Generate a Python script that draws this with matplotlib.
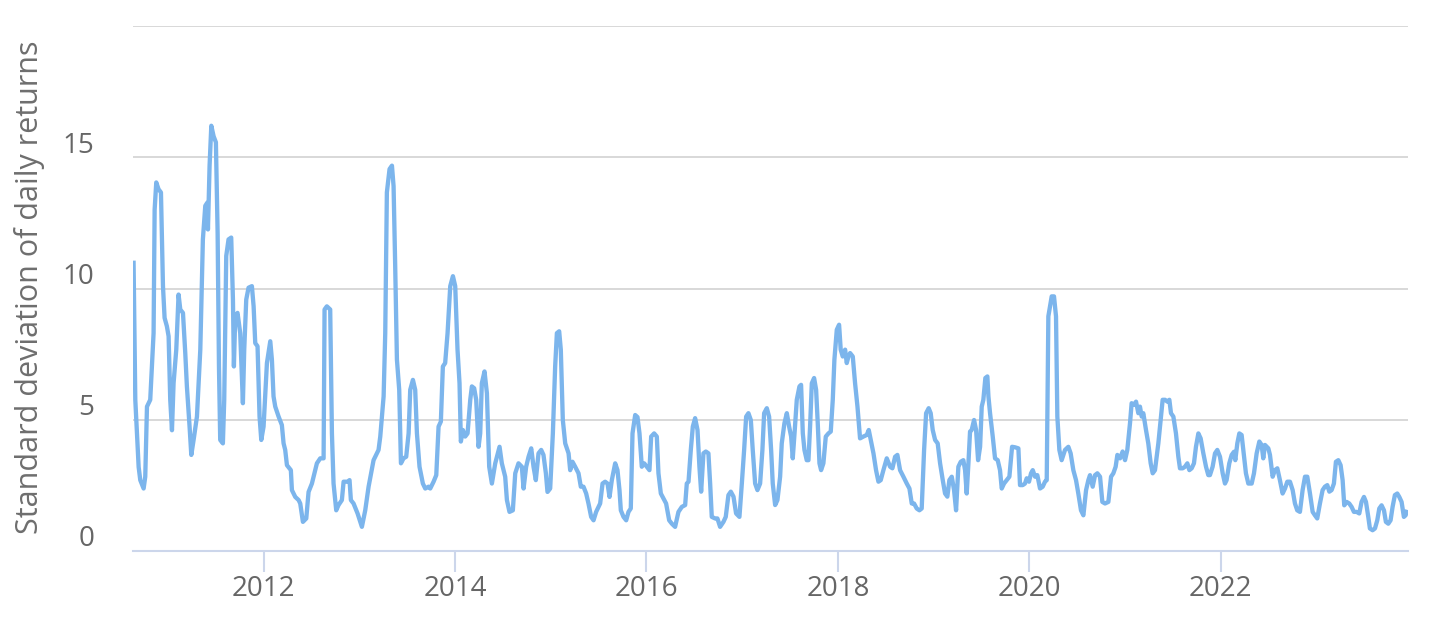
import numpy as np
import matplotlib
matplotlib.use('Agg')
import matplotlib.pyplot as plt
from matplotlib.transforms import ScaledTranslation

# decimal year of each point
years = [
    2010.642, 2010.660, 2010.695, 2010.712, 2010.747, 2010.764, 2010.782, 2010.816, 2010.851, 2010.862,
    2010.879, 2010.903, 2010.928, 2010.949, 2010.966, 2010.990, 2011.008, 2011.025, 2011.043, 2011.060,
    2011.088, 2011.112, 2011.130, 2011.158, 2011.182, 2011.199, 2011.227, 2011.245, 2011.269, 2011.304,
    2011.339, 2011.366, 2011.391, 2011.412, 2011.419, 2011.436, 2011.454, 2011.478, 2011.502, 2011.520,
    2011.534, 2011.547, 2011.575, 2011.589, 2011.610, 2011.634, 2011.662, 2011.680, 2011.690, 2011.704,
    2011.728, 2011.756, 2011.784, 2011.798, 2011.819, 2011.843, 2011.878, 2011.896, 2011.913, 2011.937,
    2011.958, 2011.976, 2012.000, 2012.035, 2012.070, 2012.087, 2012.104, 2012.122, 2012.157, 2012.191,
    2012.209, 2012.226, 2012.244, 2012.285, 2012.296, 2012.331, 2012.366, 2012.383, 2012.411, 2012.446,
    2012.470, 2012.505, 2012.557, 2012.592, 2012.627, 2012.637, 2012.661, 2012.696, 2012.714, 2012.731,
    2012.759, 2012.783, 2012.818, 2012.836, 2012.877, 2012.898, 2012.912, 2012.940, 2012.982, 2013.027,
    2013.062, 2013.097, 2013.149, 2013.201,
    2013.219, 2013.254, 2013.271, 2013.288, 2013.316, 2013.341, 2013.358, 2013.375, 2013.393, 2013.417,
    2013.435, 2013.462, 2013.490, 2013.515, 2013.532, 2013.560, 2013.584, 2013.602, 2013.629, 2013.664,
    2013.689, 2013.723, 2013.741, 2013.776, 2013.804, 2013.828, 2013.852, 2013.873, 2013.897, 2013.922,
    2013.950, 2013.978, 2014.002, 2014.026, 2014.047, 2014.061, 2014.082, 2014.106, 2014.131, 2014.159,
    2014.176, 2014.200, 2014.221, 2014.246, 2014.263, 2014.280, 2014.308, 2014.333, 2014.357, 2014.385,
    2014.420, 2014.465, 2014.489, 2014.524, 2014.542, 2014.569, 2014.604, 2014.629, 2014.663, 2014.698,
    2014.716, 2014.743, 2014.768, 2014.796, 2014.820, 2014.844, 2014.872, 2014.900, 2014.924, 2014.949,
    2014.966, 2014.994, 2015.022, 2015.046, 2015.064, 2015.088, 2015.105, 2015.126, 2015.151, 2015.186,
    2015.203, 2015.227, 2015.255, 2015.290, 2015.314, 2015.342, 2015.370, 2015.394, 2015.422, 2015.447,
    2015.474, 2015.516, 2015.541, 2015.568, 2015.593, 2015.614, 2015.638, 2015.673, 2015.697, 2015.718,
    2015.732, 2015.760, 2015.788, 2015.812, 2015.836, 2015.854, 2015.882, 2015.906, 2015.927, 2015.951,
    2015.976, 2016.004, 2016.031, 2016.049, 2016.080, 2016.108, 2016.125, 2016.150, 2016.178, 2016.205,
    2016.237,
    2016.265, 2016.299, 2016.334, 2016.369, 2016.404, 2016.421, 2016.439, 2016.463, 2016.484, 2016.508,
    2016.533, 2016.553, 2016.571, 2016.595, 2016.620, 2016.647, 2016.665, 2016.682, 2016.717, 2016.741,
    2016.769, 2016.804, 2016.828, 2016.856, 2016.881, 2016.909, 2016.936, 2016.971, 2016.996, 2017.020,
    2017.041, 2017.065, 2017.090, 2017.110, 2017.135, 2017.159, 2017.187, 2017.211, 2017.229, 2017.257,
    2017.281, 2017.302, 2017.319, 2017.344, 2017.368, 2017.396, 2017.413, 2017.441, 2017.466, 2017.490,
    2017.511, 2017.528, 2017.549, 2017.570, 2017.598, 2017.615, 2017.633, 2017.650, 2017.674, 2017.692,
    2017.709, 2017.727, 2017.751, 2017.772, 2017.789, 2017.807, 2017.824, 2017.848, 2017.873, 2017.901,
    2017.925, 2017.946, 2017.963, 2017.988, 2018.012, 2018.029, 2018.050, 2018.075, 2018.092, 2018.110,
    2018.127, 2018.155, 2018.179, 2018.204, 2018.231, 2018.266, 2018.301, 2018.322, 2018.343, 2018.371,
    2018.398, 2018.423, 2018.447, 2018.475, 2018.510, 2018.545, 2018.569, 2018.597, 2018.621, 2018.649,
    2018.684, 2018.719, 2018.747, 2018.771, 2018.795, 2018.823, 2018.851, 2018.875, 2018.900, 2018.921,
    2018.948, 2018.969, 2018.990, 2019.015, 2019.042, 2019.067, 2019.095, 2019.119, 2019.143, 2019.164,
    2019.189, 2019.213, 2019.234, 2019.258,
    2019.283, 2019.310, 2019.328, 2019.345, 2019.363, 2019.380, 2019.397, 2019.422, 2019.443, 2019.464,
    2019.485, 2019.502, 2019.519, 2019.540, 2019.561, 2019.572, 2019.589, 2019.617, 2019.641, 2019.669,
    2019.693, 2019.711, 2019.735, 2019.763, 2019.791, 2019.819, 2019.850, 2019.885, 2019.902, 2019.930,
    2019.954, 2019.972, 2019.996, 2020.017, 2020.035, 2020.059, 2020.083, 2020.111, 2020.139, 2020.163,
    2020.181, 2020.198, 2020.216, 2020.233, 2020.257, 2020.278, 2020.292, 2020.313, 2020.337, 2020.372,
    2020.407, 2020.431, 2020.459, 2020.487, 2020.511, 2020.539, 2020.564, 2020.592, 2020.616, 2020.633,
    2020.661, 2020.686, 2020.710, 2020.738, 2020.762, 2020.790, 2020.825, 2020.853, 2020.877, 2020.901,
    2020.919, 2020.947, 2020.974, 2020.999, 2021.023, 2021.051, 2021.068, 2021.093, 2021.114, 2021.138,
    2021.155, 2021.173, 2021.190, 2021.218, 2021.242, 2021.267, 2021.288, 2021.312, 2021.347, 2021.375,
    2021.392, 2021.417, 2021.441, 2021.462, 2021.479, 2021.504, 2021.531, 2021.556, 2021.573, 2021.601,
    2021.625, 2021.650, 2021.671, 2021.695, 2021.719, 2021.740, 2021.765, 2021.789, 2021.817, 2021.845,
    2021.869,
    2021.886, 2021.914, 2021.939, 2021.963, 2021.991, 2022.019, 2022.043, 2022.060, 2022.088, 2022.113,
    2022.137, 2022.151, 2022.172, 2022.193, 2022.217, 2022.235, 2022.262, 2022.287, 2022.322, 2022.346,
    2022.374, 2022.402, 2022.426, 2022.443, 2022.461, 2022.496, 2022.513, 2022.541, 2022.565, 2022.590,
    2022.617, 2022.645, 2022.670, 2022.694, 2022.722, 2022.750, 2022.774, 2022.798, 2022.826, 2022.854,
    2022.879, 2022.903, 2022.931, 2022.959, 2022.983, 2023.007, 2023.035, 2023.063, 2023.087, 2023.112,
    2023.133, 2023.157, 2023.181, 2023.202, 2023.227, 2023.251, 2023.272, 2023.289, 2023.314, 2023.341,
    2023.366, 2023.390, 2023.418, 2023.446, 2023.470, 2023.495, 2023.516, 2023.540, 2023.557, 2023.585,
    2023.610, 2023.634, 2023.655, 2023.679, 2023.704, 2023.724, 2023.749, 2023.773, 2023.794, 2023.818,
    2023.843, 2023.864, 2023.888, 2023.912, 2023.930, 2023.940,
]

std_dev = [
    10.98, 5.76, 3.2, 2.7, 2.38, 2.83, 5.5, 5.76, 8.3, 13.0,
    14.04, 13.78, 13.66, 10.1, 8.88, 8.56, 8.18, 5.76, 4.6, 6.4,
    7.67, 9.77, 9.2, 9.07, 7.54, 6.27, 4.74, 3.66, 4.23, 5.12,
    7.67, 11.87, 13.15, 13.27, 12.25, 14.68, 16.2, 15.8, 15.57, 12.1,
    7.03, 4.23, 4.1, 5.76, 11.24, 11.87, 11.94, 9.58, 7.03, 8.94,
    9.07, 8.3, 5.63, 7.67, 9.58, 10.03, 10.09, 9.32, 7.92, 7.8,
    5.12, 4.23, 4.74, 7.16, 7.99, 7.29, 5.89, 5.5, 5.12, 4.8,
    4.1, 3.85, 3.27, 3.08, 2.32, 2.06, 1.94, 1.81, 1.11, 1.24,
    2.25, 2.57, 3.34, 3.53, 3.53, 9.2, 9.32, 9.2, 4.48, 2.57,
    1.55, 1.75, 1.94, 2.64, 2.64, 2.7, 1.94, 1.81, 1.43, 0.92,
    1.55, 2.45, 3.46, 3.85,
    4.36, 5.89, 8.3, 13.66, 14.55, 14.68, 13.9, 10.85, 7.29, 6.14,
    3.34, 3.53, 3.59, 4.48, 6.14, 6.52, 6.14, 4.48, 3.21, 2.57,
    2.38, 2.45, 2.38, 2.64, 2.89, 4.74, 4.93, 7.03, 7.16, 8.3,
    10.09, 10.47, 10.09, 7.67, 6.39, 4.17, 4.61, 4.36, 4.48, 5.76,
    6.27, 6.2, 5.76, 3.97, 4.48, 6.39, 6.84, 6.01, 3.21, 2.57,
    3.34, 3.97, 3.34, 2.83, 1.94, 1.49, 1.55, 2.96, 3.34, 3.21,
    2.38, 3.21, 3.59, 3.91, 3.21, 2.7, 3.72, 3.85, 3.66, 2.96,
    2.25, 2.38, 4.48, 7.03, 8.3, 8.37, 7.67, 4.99, 4.1, 3.72,
    3.08, 3.4, 3.21, 2.96, 2.45, 2.45, 2.19, 1.81, 1.3, 1.17,
    1.49, 1.81, 2.57, 2.64, 2.57, 2.06, 2.7, 3.34, 3.08, 2.32,
    1.55, 1.3, 1.17, 1.49, 1.62, 4.48, 5.18, 5.1, 4.48, 3.21,
    3.34, 3.21, 3.08, 4.36, 4.48, 4.36, 2.96, 2.19, 2.0, 1.81,
    1.17,
    1.04, 0.92, 1.49, 1.68, 1.75, 2.57, 2.64, 3.85, 4.74, 5.06,
    4.61, 3.21, 2.26, 3.72, 3.79, 3.72, 2.57, 1.3, 1.24, 1.24,
    0.92, 1.11, 1.3, 2.13, 2.26, 2.07, 1.43, 1.3, 2.57, 3.85,
    5.12, 5.25, 4.99, 3.85, 2.57, 2.32, 2.57, 3.85, 5.25, 5.44,
    5.12, 3.85, 2.57, 1.75, 1.94, 2.83, 4.1, 4.87, 5.25, 4.74,
    4.36, 3.53, 4.61, 5.76, 6.27, 6.33, 4.48, 3.85, 3.46, 3.46,
    4.74, 6.39, 6.59, 6.14, 4.87, 3.34, 3.08, 3.34, 4.36, 4.48,
    4.55, 5.76, 7.29, 8.43, 8.62, 7.67, 7.41, 7.67, 7.16, 7.41,
    7.54, 7.41, 6.39, 5.5, 4.29, 4.36, 4.42, 4.61, 4.23, 3.72,
    3.08, 2.64, 2.7, 3.08, 3.53, 3.21, 3.15, 3.59, 3.66, 3.08,
    2.83, 2.57, 2.38, 1.81, 1.81, 1.62, 1.55, 1.62, 3.85, 5.25,
    5.44, 5.25, 4.61, 4.23, 4.1, 3.34, 2.7, 2.19, 2.07, 2.7,
    2.83, 2.32, 1.55, 3.21,
    3.4, 3.46, 3.08, 2.19, 3.34, 4.55, 4.61, 4.99, 4.61, 3.46,
    3.97, 5.5, 5.76, 6.59, 6.65, 5.89, 5.25, 4.36, 3.53, 3.46,
    3.08, 2.38, 2.57, 2.7, 2.83, 3.97, 3.95, 3.91, 2.51, 2.51,
    2.57, 2.77, 2.64, 2.96, 3.08, 2.83, 2.89, 2.38, 2.45, 2.64,
    2.7, 8.94, 9.32, 9.7, 9.7, 8.94, 5.12, 3.85, 3.46, 3.85,
    3.97, 3.72, 3.08, 2.7, 2.19, 1.55, 1.36, 2.32, 2.7, 2.89,
    2.45, 2.89, 2.96, 2.83, 1.87, 1.81, 1.87, 2.83, 2.96, 3.21,
    3.66, 3.53, 3.79, 3.46, 3.85, 4.87, 5.63, 5.57, 5.69, 5.25,
    5.5, 5.12, 5.25, 4.61, 4.1, 3.34, 2.96, 3.08, 4.1, 5.12,
    5.76, 5.76, 5.69, 5.76, 5.25, 5.12, 4.48, 3.59, 3.15, 3.15,
    3.21, 3.34, 3.08, 3.15, 3.34, 3.97, 4.48, 4.29, 3.72, 3.21,
    2.89,
    2.89, 3.21, 3.72, 3.85, 3.59, 2.96, 2.57, 2.7, 3.34, 3.66,
    3.78, 3.46, 4.1, 4.48, 4.42, 3.85, 2.96, 2.57, 2.57, 2.96,
    3.72, 4.17, 4.04, 3.53, 4.04, 3.91, 3.66, 2.83, 3.08, 3.15,
    2.7, 2.19, 2.38, 2.64, 2.64, 2.32, 1.81, 1.55, 1.49, 2.32,
    2.83, 2.83, 2.19, 1.49, 1.36, 1.24, 1.81, 2.32, 2.45, 2.51,
    2.26, 2.32, 2.57, 3.4, 3.46, 3.27, 2.7, 1.74, 1.87, 1.81,
    1.68, 1.49, 1.49, 1.43, 1.87, 2.06, 1.87, 1.3, 0.86, 0.79,
    0.86, 1.17, 1.62, 1.74, 1.55, 1.11, 1.04, 1.17, 1.68, 2.13,
    2.19, 2.06, 1.87, 1.3, 1.36, 1.49,
]

x_ticks = [2012, 2014, 2016, 2018, 2020, 2022]
y_ticks = [0, 5, 10, 15, 20]
y_tick_labels = ['0', '5', '10', '15', '']
y_title = 'Standard deviation of daily returns'

plt.rcParams['font.family'] = ['Open Sans', 'DejaVu Sans']

fig = plt.figure(figsize=(14.32, 6.22), dpi=100)
ax = fig.add_axes([133 / 1432, 1 - 551 / 622, 1275 / 1432, 525 / 622])

ax.plot(years, std_dev, color='#7cb5ec', lw=3.1, solid_joinstyle='round', zorder=3)

ax.set_xlim(2010.636, 2023.955)
ax.set_ylim(0, 20)

ax.set_xticks(x_ticks)
ax.set_xticklabels([str(y) for y in x_ticks])
ax.set_yticks(y_ticks)
ax.set_yticklabels(y_tick_labels)

ax.grid(axis='y', color='#d6d6d6', lw=1.3)
ax.set_axisbelow(True)
for side in ['top', 'right', 'left']:
    ax.spines[side].set_visible(False)
ax.spines['bottom'].set_color('#ccd6eb')
ax.spines['bottom'].set_linewidth(1.5)
ax.spines['bottom'].set_zorder(4)

ax.tick_params(axis='x', length=15, width=1.5, color='#ccd6eb', pad=2,
               labelsize=20, labelcolor='#666666')
ax.tick_params(axis='y', length=0, pad=28, labelsize=20, labelcolor='#666666')

# y labels sit a bit above their grid lines
shift = ScaledTranslation(0, 0.15, fig.dpi_scale_trans)
for lbl in ax.get_yticklabels():
    lbl.set_transform(lbl.get_transform() + shift)

fig.text(30 / 1432, 1 - 287 / 622, y_title, rotation=90, ha='center', va='center',
         fontsize=22, color='#6e6e6e')

fig.savefig('out.png', dpi=100)
